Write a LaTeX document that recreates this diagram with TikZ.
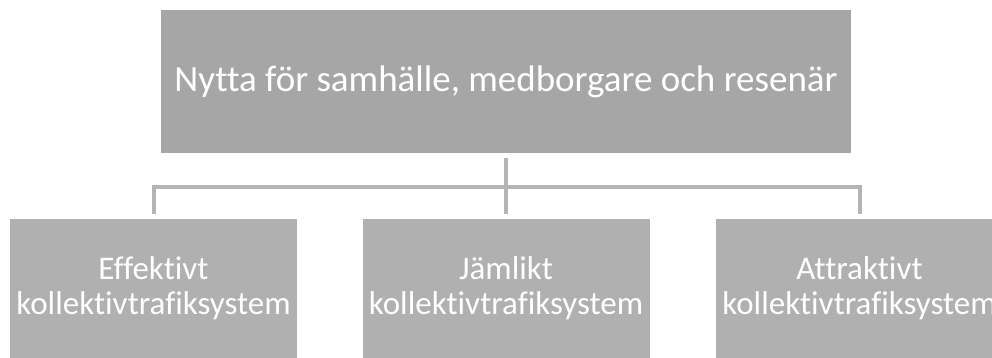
\documentclass[tikz,border=0pt]{standalone}
\usepackage{fontspec}
\setmainfont[Ligatures=NoCommon]{Carlito}
\definecolor{topgray}{RGB}{166,166,166}
\definecolor{boxgray}{RGB}{176,176,176}
\definecolor{linegray}{RGB}{180,180,180}
\begin{document}
\begin{tikzpicture}[x=1pt,y=-1pt,
  topbox/.style={fill=topgray,draw=none,text=white,minimum width=690pt,minimum height=143pt,
    inner sep=0pt,font=\fontsize{37}{40}\selectfont},
  subbox/.style={fill=boxgray,draw=none,text=white,minimum width=287pt,minimum height=139pt,
    inner sep=0pt,align=center,font=\fontsize{33}{35}\selectfont},
  conn/.style={draw=linegray,line width=4pt}]
\useasboundingbox (0,0) rectangle (992,358);
\clip (0,0) rectangle (992,358);
\node[topbox] (top) at (506,81.5) {Nytta för samhälle, medborgare och resenär};
\node[subbox] (left) at (153.5,288.5) {Effektivt\\kollektivtrafiksystem};
\node[subbox] (mid) at (506,288.5) {Jämlikt\\kollektivtrafiksystem};
\node[subbox] (right) at (859.5,288.5) {Attraktivt\\kollektivtrafiksystem};
\coordinate (bus) at (506,187);
\draw[conn,shorten <=5pt,shorten >=5pt] (top) -- (mid);
\draw[conn,shorten >=5pt] (bus) -| (left);
\draw[conn,shorten >=5pt] (bus) -| (right);
\end{tikzpicture}
\end{document}
